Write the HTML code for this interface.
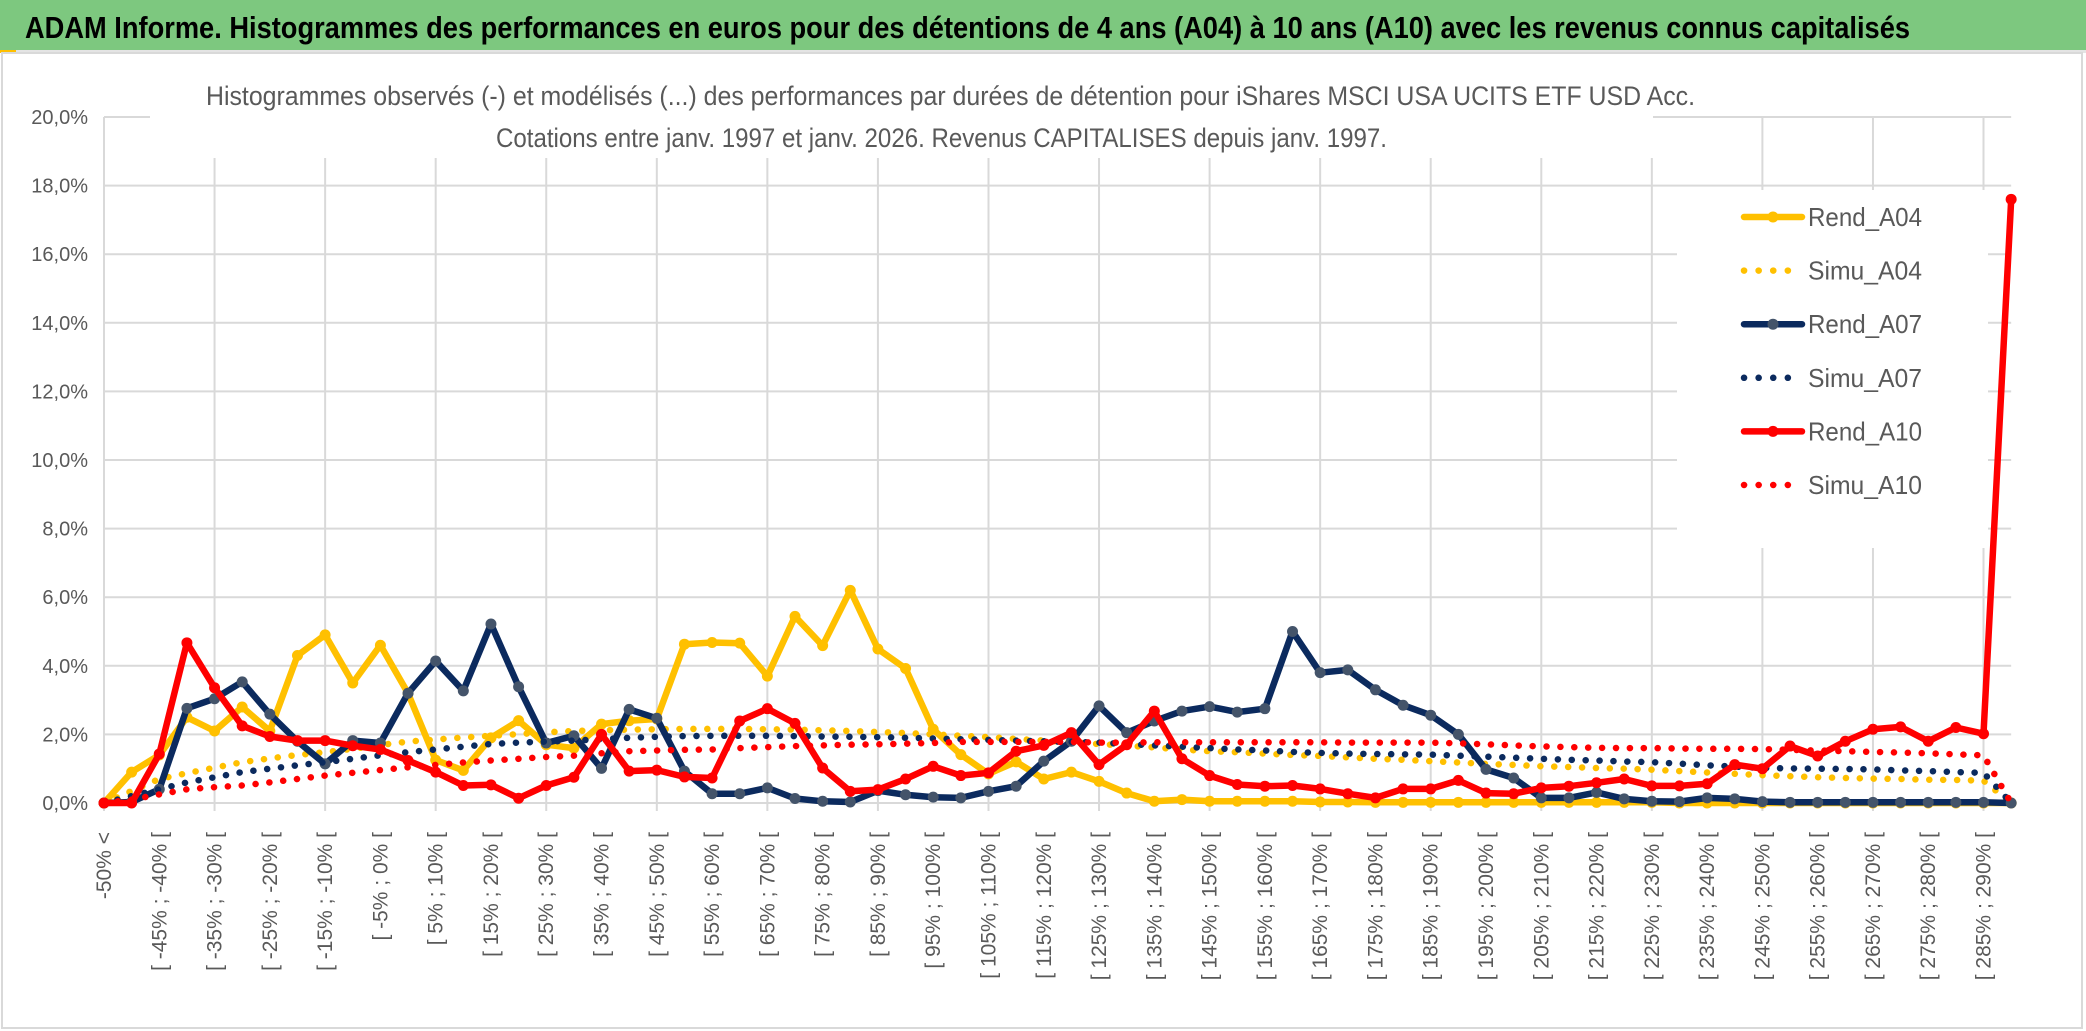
<!DOCTYPE html>
<html><head><meta charset="utf-8">
<style>
html,body{margin:0;padding:0;background:#fff;}
svg{display:block;}
text{font-family:"Liberation Sans Narrow","Liberation Sans",sans-serif;}
</style></head>
<body>
<svg id="chart" width="2086" height="1031" viewBox="0 0 2086 1031" xmlns="http://www.w3.org/2000/svg">
  <rect x="0" y="0" width="2086" height="1031" fill="#ffffff"/>
  <rect x="0" y="0" width="2086" height="50" fill="#7dc87f"/>
  <rect x="0" y="50" width="2086" height="3" fill="#e4e4e4"/>
  <rect x="0" y="50" width="16" height="3" fill="#ffc000"/>
  <text x="25" y="38" font-size="31" font-weight="bold" fill="#000" textLength="1885" lengthAdjust="spacingAndGlyphs">ADAM Informe. Histogrammes des performances en euros pour des détentions de 4 ans (A04) à 10 ans (A10) avec les revenus connus capitalisés</text>
  <rect x="2" y="53" width="2080" height="975" fill="none" stroke="#d9d9d9" stroke-width="2"/>
  <g id="grid"></g>
  <rect x="150" y="70" width="1503" height="88" fill="#fff"/>
  <text x="206" y="105" font-size="27" fill="#595959" textLength="1489" lengthAdjust="spacingAndGlyphs">Histogrammes observés (-) et modélisés (...) des performances par durées de détention pour iShares MSCI USA UCITS ETF USD Acc.</text>
  <text x="496" y="147" font-size="27" fill="#595959" textLength="891" lengthAdjust="spacingAndGlyphs">Cotations entre janv. 1997 et janv. 2026. Revenus CAPITALISES depuis janv. 1997.</text>
  <rect x="1677" y="190" width="311" height="358" fill="#fff"/>
  <g id="yaxis"></g>
  <g id="xaxis"></g>
  <g id="series"></g>
  <g id="legend"></g>
</svg>
<script>
const categories = [];
categories.push("-50% <");
for (let k = 1; k < 70; k++) { const lo = -50 + 5 * (k - 1); categories.push("[ " + lo + "% ; " + (lo + 5) + "% ["); }
const yTicks = [0, 2, 4, 6, 8, 10, 12, 14, 16, 18, 20];
const yTickLabels = ["0,0%","2,0%","4,0%","6,0%","8,0%","10,0%","12,0%","14,0%","16,0%","18,0%","20,0%"];
const rendA04 = [0,0.9,1.4,2.5,2.1,2.8,2.1,4.3,4.9,3.5,4.6,3.2,1.25,0.95,1.9,2.4,1.7,1.6,2.3,2.4,2.45,4.63,4.68,4.66,3.7,5.44,4.59,6.2,4.49,3.92,2.15,1.41,0.85,1.2,0.7,0.9,0.63,0.29,0.05,0.1,0.05,0.05,0.05,0.05,0.03,0.03,0.02,0.02,0.02,0.02,0.02,0.02,0.02,0.02,0.02,0.02,0.02,0,0,0,0,0,0,0,0,0,0,0,0,0];
const simuA04 = [0,0.35,0.7,0.87,1.03,1.19,1.3,1.4,1.48,1.58,1.69,1.79,1.85,1.91,1.96,2.01,2.06,2.1,2.12,2.14,2.15,2.16,2.16,2.16,2.15,2.14,2.12,2.1,2.07,2.04,2.0,1.96,1.92,1.87,1.82,1.77,1.72,1.67,1.62,1.56,1.51,1.48,1.44,1.4,1.37,1.33,1.29,1.26,1.22,1.18,1.14,1.11,1.07,1.05,1.02,1.0,0.97,0.93,0.89,0.85,0.81,0.78,0.75,0.73,0.71,0.7,0.68,0.67,0.65,0];
const rendA07 = [0,0.03,0.4,2.76,3.04,3.53,2.59,1.8,1.14,1.82,1.75,3.2,4.14,3.27,5.22,3.39,1.75,1.96,1.01,2.73,2.47,0.93,0.27,0.27,0.44,0.13,0.05,0.03,0.36,0.24,0.17,0.15,0.34,0.49,1.22,1.8,2.83,2.05,2.39,2.68,2.81,2.65,2.75,5.0,3.8,3.88,3.3,2.85,2.56,2.0,0.98,0.73,0.15,0.15,0.31,0.12,0.05,0.04,0.15,0.12,0.04,0.02,0.02,0.02,0.02,0.02,0.02,0.02,0.02,0];
const simuA07 = [0,0.2,0.4,0.6,0.75,0.9,1.0,1.1,1.19,1.29,1.39,1.48,1.56,1.64,1.72,1.76,1.79,1.82,1.86,1.9,1.93,1.95,1.96,1.96,1.96,1.95,1.94,1.93,1.92,1.9,1.88,1.86,1.84,1.82,1.8,1.78,1.76,1.72,1.68,1.64,1.6,1.56,1.53,1.49,1.46,1.44,1.43,1.42,1.41,1.38,1.35,1.32,1.29,1.26,1.24,1.21,1.19,1.15,1.1,1.06,1.02,1.01,1.0,0.99,0.98,0.95,0.93,0.9,0.88,0];
const rendA10 = [0,0,1.43,4.67,3.36,2.25,1.94,1.82,1.82,1.67,1.56,1.24,0.9,0.51,0.53,0.14,0.51,0.75,2.0,0.93,0.96,0.76,0.73,2.39,2.75,2.32,1.02,0.34,0.39,0.7,1.07,0.8,0.88,1.51,1.68,2.05,1.12,1.7,2.68,1.29,0.8,0.54,0.49,0.51,0.41,0.27,0.15,0.41,0.41,0.66,0.29,0.27,0.44,0.49,0.59,0.7,0.5,0.5,0.56,1.12,1.0,1.66,1.37,1.8,2.15,2.22,1.8,2.2,2.02,17.6];
const simuA10 = [0,0.1,0.25,0.4,0.46,0.51,0.6,0.7,0.8,0.88,0.96,1.04,1.11,1.18,1.24,1.29,1.34,1.38,1.45,1.51,1.53,1.55,1.56,1.6,1.63,1.66,1.68,1.7,1.71,1.73,1.75,1.78,1.78,1.78,1.78,1.78,1.76,1.76,1.77,1.77,1.77,1.77,1.77,1.77,1.77,1.76,1.76,1.76,1.76,1.74,1.71,1.68,1.65,1.63,1.61,1.6,1.6,1.59,1.58,1.58,1.57,1.55,1.53,1.51,1.49,1.47,1.45,1.42,1.39,0];

const NS = "http://www.w3.org/2000/svg";
const X0 = 104, STEP = 27.64, Y0 = 803, PER = 34.3;
function xPos(i) { return X0 + STEP * i; }
function yPos(v) { return Y0 - PER * v; }
function mk(tag, attrs, parent) {
  const e = document.createElementNS(NS, tag);
  for (const k in attrs) e.setAttribute(k, attrs[k]);
  parent.appendChild(e);
  return e;
}
const grid = document.getElementById("grid");
const xEnd = xPos(categories.length - 1);
yTicks.forEach(function (t) {
  const l = mk("line", {x1: X0, x2: xEnd, y1: yPos(t), y2: yPos(t), stroke: "#d9d9d9", "stroke-width": 2}, grid);
  
  
});
for (let i = 0; i < categories.length; i += 4) {
  const l = mk("line", {x1: xPos(i), x2: xPos(i), y1: yPos(20), y2: yPos(0) + 8, stroke: "#d9d9d9", "stroke-width": 2}, grid);
  
  
}
const yax = document.getElementById("yaxis");
yTicks.forEach(function (t, k) {
  const tx = mk("text", {x: 88, y: yPos(t) + 7, "font-size": 20, fill: "#595959", "text-anchor": "end"}, yax);
  tx.textContent = yTickLabels[k];
  
  
});
const xax = document.getElementById("xaxis");
for (let i = 0; i < categories.length; i += 2) {
  const cx = xPos(i) + 7, cy = 832;
  const tx = mk("text", {x: cx, y: cy, "font-size": 21, fill: "#595959", "text-anchor": "end", transform: "rotate(-90 " + cx + " " + cy + ")"}, xax);
  tx.textContent = categories[i];
  
  
}
const ser = document.getElementById("series");
function pts(arr) { return arr.map(function (v, i) { return xPos(i).toFixed(1) + "," + yPos(v).toFixed(1); }).join(" "); }
function solid(arr, color, mcolor, name) {
  const g = mk("g", {}, ser);
  
  
  mk("polyline", {points: pts(arr), fill: "none", stroke: color, "stroke-width": 6.5, "stroke-linejoin": "round"}, g);
  arr.forEach(function (v, i) {
    const c = mk("circle", {cx: xPos(i), cy: yPos(v), r: 5.5, fill: mcolor}, g);
    
    
  });
}
function dotted(arr, color, name) {
  const p = mk("polyline", {points: pts(arr), fill: "none", stroke: color, "stroke-width": 6.5, "stroke-linecap": "round", "stroke-dasharray": "0.1 13.8"}, ser);
  
  
}
solid(rendA04, "#ffc000", "#ffc000", "rend-a04-line");
dotted(simuA04, "#ffc000", "simu-a04-line");
solid(rendA07, "#0b2a5e", "#44546a", "rend-a07-line");
dotted(simuA07, "#0b2a5e", "simu-a07-line");
solid(rendA10, "#ff0000", "#ff0000", "rend-a10-line");
dotted(simuA10, "#ff0000", "simu-a10-line");

const legendNames = ["Rend_A04","Simu_A04","Rend_A07","Simu_A07","Rend_A10","Simu_A10"];
const legendColors = ["#ffc000","#ffc000","#0b2a5e","#0b2a5e","#ff0000","#ff0000"];
const legendMarkers = ["#ffc000",null,"#44546a",null,"#ff0000",null];
const lg = document.getElementById("legend");
legendNames.forEach(function (n, k) {
  const y = 217 + k * 53.6;
  const g = mk("g", {}, lg);
  
  
  if (legendMarkers[k]) {
    mk("line", {x1: 1744, x2: 1802, y1: y, y2: y, stroke: legendColors[k], "stroke-width": 6.5, "stroke-linecap": "round"}, g);
    mk("circle", {cx: 1773, cy: y, r: 5.5, fill: legendMarkers[k]}, g);
  } else {
    mk("line", {x1: 1744, x2: 1802, y1: y, y2: y, stroke: legendColors[k], "stroke-width": 6.5, "stroke-linecap": "round", "stroke-dasharray": "0.1 14.5"}, g);
  }
  const tx = mk("text", {x: 1808, y: y + 9, "font-size": 26, fill: "#595959", textLength: 114, lengthAdjust: "spacingAndGlyphs"}, g);
  tx.textContent = n;
});
</script>
</body></html>
